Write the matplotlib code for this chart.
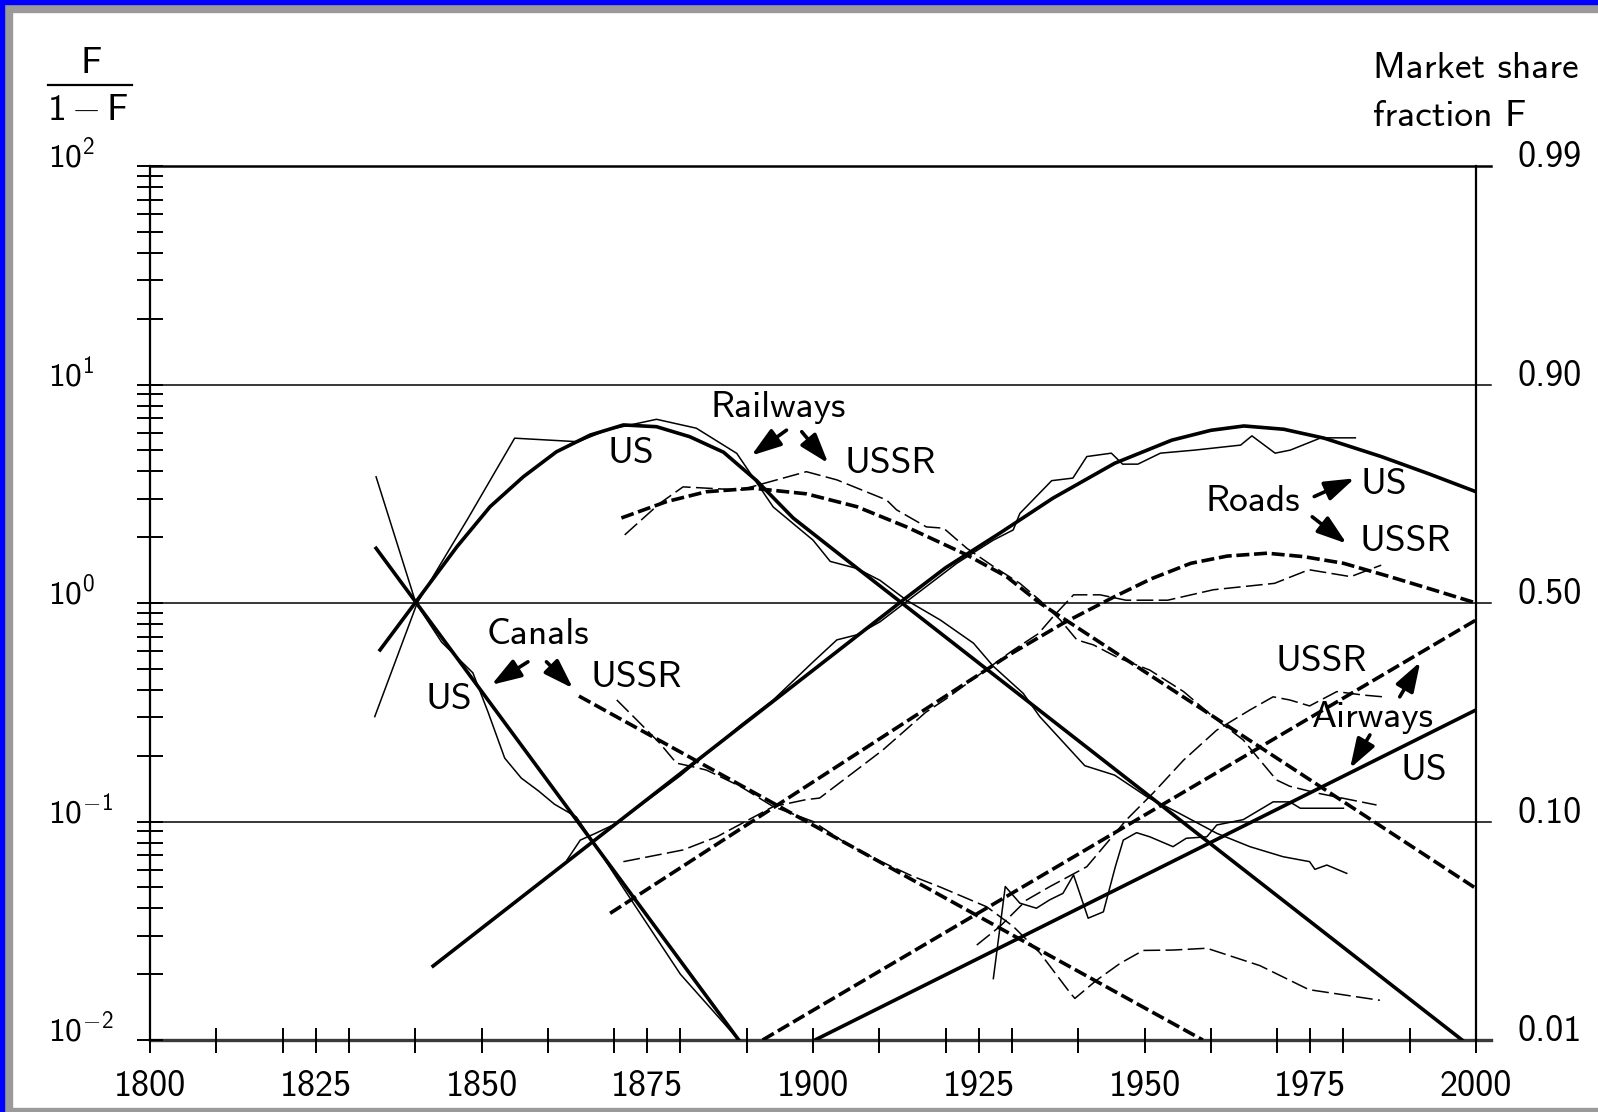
import matplotlib.pyplot as plt
import matplotlib.transforms as mtransforms
from matplotlib.lines import Line2D
from matplotlib.patches import Rectangle
from matplotlib.ticker import LogLocator, NullFormatter

# Computer Modern sans for everything, cm symbols for the math minus
plt.rcParams['font.family'] = ['cmss10', 'DejaVu Sans']
plt.rcParams['mathtext.fontset'] = 'custom'
plt.rcParams['mathtext.rm'] = 'cmss10'
plt.rcParams['mathtext.it'] = 'cmss10'
plt.rcParams['mathtext.bf'] = 'cmss10'
plt.rcParams['mathtext.sf'] = 'cmss10'
plt.rcParams['axes.unicode_minus'] = False

# F/(1-F) values, fitted logistic curves (*_fit) and observed shares
canal_us_fit_yr = [1834.1, 1888.8]
canal_us_fit = [1.78, 0.01]
canal_us_yr = [1834.1, 1840.1, 1844, 1848.7, 1851, 1853.5, 1856, 1858.6, 1861, 1864.3,
               1867, 1870, 1875, 1880, 1885, 1888.8]
canal_us = [3.78, 1.0, 0.661, 0.479, 0.316, 0.195, 0.158, 0.138, 0.120, 0.105,
            0.0794, 0.0575, 0.0339, 0.0200, 0.0135, 0.0100]

canal_su_fit_yr = [1864.7, 1958.8]
canal_su_fit = [0.375, 0.01]
canal_su_yr = [1870.4, 1873.4, 1876.9, 1879.4, 1881.9, 1883.9, 1889, 1894, 1900, 1905,
               1910, 1915, 1919.2, 1926.2, 1930.2, 1934.2, 1938.8, 1939.5, 1942.8, 1946.3,
               1949.8, 1954.3, 1959.4, 1963.4, 1967.4, 1974.8, 1985.5]
canal_su = [0.360, 0.292, 0.228, 0.185, 0.178, 0.172, 0.145, 0.117, 0.100, 0.0794,
            0.0661, 0.0562, 0.0501, 0.0407, 0.0331, 0.0251, 0.0164, 0.0155, 0.0188, 0.0224,
            0.0257, 0.0258, 0.0263, 0.0240, 0.0219, 0.0170, 0.0152]

rail_us_fit_yr = [1834.7, 1840.5, 1846.3, 1851.3, 1856.3, 1861.3, 1866.4, 1871.4, 1876.4,
                  1881.4, 1886.5, 1891.5, 1897, 1905, 1913.4, 1997.9]
rail_us_fit = [0.610, 1.05, 1.81, 2.76, 3.78, 4.92, 5.87, 6.53, 6.41,
               5.77, 4.90, 3.63, 2.45, 1.58, 1.0, 0.01]
rail_us_yr = [1833.9, 1840.3, 1848, 1855, 1864.6, 1868.9, 1876.4, 1882.4, 1888.5, 1894,
              1900, 1902.6, 1906.6, 1910.1, 1914.1, 1919.2, 1924.2, 1927.2, 1931.7, 1934.2,
              1941, 1945.5, 1950.5, 1955, 1960.9, 1965.9, 1970.9, 1974.9, 1975.7, 1977.5, 1980.5]
rail_us = [0.302, 1.0, 2.45, 5.68, 5.47, 6.19, 6.93, 6.31, 4.84, 2.75,
           1.94, 1.55, 1.44, 1.27, 1.03, 0.836, 0.655, 0.513, 0.386, 0.302,
           0.180, 0.163, 0.129, 0.110, 0.0883, 0.0767, 0.0690, 0.0655, 0.0604, 0.0632, 0.0579]

rail_su_fit_yr = [1871.1, 1877.9, 1883.9, 1891, 1899, 1906.6, 1914.1, 1923.2, 1929.2, 1934.2, 2000]
rail_su_fit = [2.45, 2.91, 3.23, 3.35, 3.16, 2.76, 2.23, 1.66, 1.32, 1.0, 0.0494]
rail_su_yr = [1871.6, 1876.9, 1880.4, 1889, 1899, 1903.6, 1911.1, 1912.6, 1917.1, 1919.7,
              1923.2, 1927.2, 1931.2, 1934.2, 1937.3, 1939.8, 1942.3, 1946, 1950.8, 1955.9,
              1960.9, 1964.9, 1967.4, 1969.9, 1971.9, 1976, 1985]
rail_su = [2.05, 2.86, 3.40, 3.29, 3.99, 3.66, 2.96, 2.67, 2.23, 2.20,
           1.78, 1.47, 1.23, 1.03, 0.836, 0.678, 0.643, 0.562, 0.493, 0.393,
           0.292, 0.236, 0.191, 0.155, 0.145, 0.135, 0.119]

road_us_fit_yr = [1842.7, 1914.1, 1920, 1928.2, 1936.2, 1945.5, 1954.1, 1960, 1965, 1971,
                  1977.1, 1985.7, 1993, 2000]
road_us_fit = [0.0218, 1.06, 1.45, 2.09, 3.02, 4.36, 5.56, 6.17, 6.46, 6.24,
               5.68, 4.68, 3.89, 3.23]
road_us_yr = [1862.9, 1864.9, 1867.2, 1870.4, 1880, 1889, 1894, 1900, 1903.6, 1906.6,
              1910.1, 1915.1, 1921.7, 1927.2, 1930.2, 1931.2, 1936, 1939.2, 1941.3, 1945,
              1946.7, 1949, 1952.4, 1957.6, 1964.5, 1966.2, 1969.7, 1972, 1976.6, 1981.8]
road_us = [0.0667, 0.0822, 0.0883, 0.0982, 0.162, 0.275, 0.360, 0.537, 0.678, 0.715,
           0.820, 1.07, 1.52, 1.94, 2.16, 2.57, 3.63, 3.73, 4.68, 4.85,
           4.32, 4.32, 4.85, 5.01, 5.28, 5.82, 4.85, 5.01, 5.70, 5.70]

road_su_fit_yr = [1869.4, 1930, 1937.7, 1945.5, 1951, 1957, 1962.5, 1968.5, 1974, 1980,
                  1987, 1993.5, 2000]
road_su_fit = [0.0380, 0.589, 0.807, 1.07, 1.29, 1.52, 1.64, 1.69, 1.63, 1.52,
               1.32, 1.15, 1.0]
road_su_yr = [1871.4, 1880.4, 1885.5, 1894, 1899, 1901, 1910.5, 1917, 1920, 1925,
              1930, 1934, 1936.2, 1939.3, 1943.3, 1947.2, 1953.5, 1960.4, 1969.6, 1974.8,
              1981.1, 1985.7]
road_su = [0.0655, 0.0741, 0.0851, 0.117, 0.126, 0.128, 0.212, 0.316, 0.363, 0.468,
           0.603, 0.724, 0.865, 1.09, 1.09, 1.03, 1.03, 1.15, 1.23, 1.42,
           1.32, 1.49]

air_su_fit_yr = [1892.4, 2000]
air_su_fit = [0.01, 0.836]
air_su_yr = [1924.7, 1928.2, 1932.2, 1935.7, 1941.3, 1947.3, 1951.3, 1955.9, 1960.9, 1965.9,
             1969.4, 1971.9, 1974.9, 1979, 1983, 1986]
air_su = [0.0272, 0.0331, 0.0437, 0.0503, 0.0621, 0.102, 0.135, 0.191, 0.262, 0.324,
          0.372, 0.360, 0.338, 0.393, 0.379, 0.372]

air_us_fit_yr = [1900.3, 2000]
air_us_fit = [0.01, 0.324]
air_us_yr = [1927.2, 1929.0, 1931.2, 1933.7, 1935.7, 1937.7, 1939.3, 1941.5, 1943.8, 1945.6,
             1946.8, 1948.8, 1950.8, 1954.3, 1956.3, 1959.4, 1960.9, 1964.9, 1969.4, 1971.9,
             1973.5, 1980]
air_us = [0.0191, 0.0504, 0.0423, 0.0401, 0.0438, 0.0469, 0.0569, 0.0361, 0.0386, 0.0621,
          0.0822, 0.0889, 0.0851, 0.0767, 0.0838, 0.0851, 0.0964, 0.102, 0.123, 0.123,
          0.115, 0.115]

tick_years = [1800, 1810, 1820, 1825, 1830, 1840, 1850, 1860, 1870, 1875, 1880, 1890,
              1900, 1910, 1920, 1925, 1930, 1940, 1950, 1960, 1970, 1975, 1980, 1990, 2000]
label_years = [1800, 1825, 1850, 1875, 1900, 1925, 1950, 1975, 2000]
decades = [-2, -1, 0, 1, 2]
share_labels = ['0.01', '0.10', '0.50', '0.90', '0.99']

W, H = 1598, 1112
fig = plt.figure(figsize=(W / 100, H / 100), dpi=100)
fig.patch.set_facecolor('white')


def fx(px):
    return px / W


def fy(py):
    return 1 - py / H


# picture frame along the left, top and bottom edges
fig.patches.append(Rectangle((0, 0), fx(4), 1, transform=fig.transFigure,
                             color='#0000ff', zorder=10))
fig.patches.append(Rectangle((0, fy(4)), 1, 4 / H, transform=fig.transFigure,
                             color='#0000ff', zorder=10))
fig.patches.append(Rectangle((fx(4), 0), fx(8), fy(4), transform=fig.transFigure,
                             color='#9a9a9a', zorder=9))
fig.patches.append(Rectangle((fx(4), fy(12)), 1, 8 / H, transform=fig.transFigure,
                             color='#9a9a9a', zorder=9))
fig.patches.append(Rectangle((0, 0), 1, 4 / H, transform=fig.transFigure,
                             color='#9a9a9a', zorder=9))

ax = fig.add_axes([fx(150), fy(1040), 1326 / W, 874 / H])
ax.set_facecolor('none')
ax.set_xlim(1800, 2000)
ax.set_yscale('log')
ax.set_ylim(0.01, 100)

for side in ['top', 'bottom']:
    ax.spines[side].set_visible(False)
ax.spines['left'].set_linewidth(1.6)
ax.spines['right'].set_linewidth(1.6)

ax.yaxis.set_major_locator(LogLocator(base=10, numticks=10))
ax.yaxis.set_minor_locator(LogLocator(base=10, subs=range(2, 10), numticks=10))
ax.yaxis.set_minor_formatter(NullFormatter())
ax.tick_params(axis='y', which='both', direction='inout', length=19, width=1.4,
               labelleft=False, right=False)
ax.set_xticks(tick_years)
ax.tick_params(axis='x', direction='inout', length=18, width=1.4, labelbottom=False)

# horizontal decade lines, running a little past the right axis
gtrans = mtransforms.blended_transform_factory(ax.transAxes, ax.transData)
for k in decades:
    lw = 2.4 if k == -2 else (1.8 if k == 2 else 1.1)
    col = '#3a3a3a' if k == -2 else 'black'
    ax.plot([0, 1.011], [10.0 ** k, 10.0 ** k], transform=gtrans, clip_on=False,
            color=col, lw=lw, zorder=1)

for year in label_years:
    ax.annotate(str(year), xy=(year, 0.01), xytext=(0, -40), textcoords='offset points',
                ha='center', va='baseline', fontsize=26)

for k, lab in zip(decades, share_labels):
    ax.annotate(rf'$10^{{{k}}}$', xy=(0, 10.0 ** k), xycoords=gtrans,
                xytext=(-73.5, -1), textcoords='offset points',
                ha='left', va='baseline', fontsize=24)
    ax.annotate(lab, xy=(1, 10.0 ** k), xycoords=gtrans,
                xytext=(30, -1), textcoords='offset points',
                ha='left', va='baseline', fontsize=26)

thick = 2.6
thin = 1.1
fit_dash = (0, (3.6, 1.3))
data_dash = (0, (11, 3.5))

# fitted logistic substitution curves
ax.plot(canal_us_fit_yr, canal_us_fit, color='black', lw=thick)
ax.plot(rail_us_fit_yr, rail_us_fit, color='black', lw=thick)
ax.plot(road_us_fit_yr, road_us_fit, color='black', lw=thick)
ax.plot(air_us_fit_yr, air_us_fit, color='black', lw=thick)
ax.plot(canal_su_fit_yr, canal_su_fit, color='black', lw=thick, linestyle=fit_dash)
ax.plot(rail_su_fit_yr, rail_su_fit, color='black', lw=thick, linestyle=fit_dash)
ax.plot(road_su_fit_yr, road_su_fit, color='black', lw=thick, linestyle=fit_dash)
ax.plot(air_su_fit_yr, air_su_fit, color='black', lw=thick, linestyle=fit_dash)

# observed market shares
ax.plot(canal_us_yr, canal_us, color='black', lw=thin)
ax.plot(rail_us_yr, rail_us, color='black', lw=thin)
ax.plot(road_us_yr, road_us, color='black', lw=thin)
ax.plot(air_us_yr, air_us, color='black', lw=thin)
ax.plot(canal_su_yr, canal_su, color='black', lw=thin, linestyle=data_dash)
ax.plot(rail_su_yr, rail_su, color='black', lw=thin, linestyle=data_dash)
ax.plot(road_su_yr, road_su, color='black', lw=thin, linestyle=data_dash)
ax.plot(air_su_yr, air_su, color='black', lw=thin, linestyle=data_dash)

# curve labels
labels = [
    ('Railways', 1894.8, 7.84), ('US', 1872.5, 4.83), ('USSR', 1911.7, 4.34),
    ('Canals', 1858.5, 0.721), ('US', 1845.0, 0.360), ('USSR', 1873.3, 0.455),
    ('Roads', 1966.4, 2.92), ('US', 1986.1, 3.50), ('USSR', 1989.4, 1.92),
    ('USSR', 1976.7, 0.541), ('Airways', 1984.4, 0.299), ('US', 1992.2, 0.171),
]
for text, x, y in labels:
    ax.text(x, y, text, ha='center', va='center', fontsize=27, zorder=5)

arrows = [
    ((1896.0, 6.18), (1890.7, 4.73)), ((1898.3, 6.08), (1902.3, 4.36)),
    ((1857.0, 0.538), (1851.5, 0.422)), ((1859.8, 0.538), (1863.8, 0.407)),
    ((1975.6, 3.07), (1981.7, 3.72)), ((1975.3, 2.48), (1980.5, 1.87)),
    ((1988.5, 0.372), (1991.6, 0.538)), ((1984.0, 0.249), (1981.0, 0.175)),
]
for start, end in arrows:
    ax.annotate('', xy=end, xytext=start,
                arrowprops=dict(arrowstyle='-|>,head_length=0.9,head_width=0.3',
                                lw=2.6, color='black', shrinkA=0, shrinkB=0,
                                mutation_scale=20))

# axis captions
fig.text(fx(91.5), fy(73), 'F', ha='center', va='baseline', fontsize=27)
fig.lines.append(Line2D([fx(48), fx(132)], [fy(85), fy(85)], transform=fig.transFigure,
                        color='black', lw=1.6))
fig.text(fx(47), fy(120), '$1 - F$', ha='left', va='baseline', fontsize=27)
fig.text(fx(1373), fy(78), 'Market share', ha='left', va='baseline', fontsize=27)
fig.text(fx(1373), fy(126), 'fraction F', ha='left', va='baseline', fontsize=27)

fig.savefig('out.png', dpi=100, facecolor='white')
